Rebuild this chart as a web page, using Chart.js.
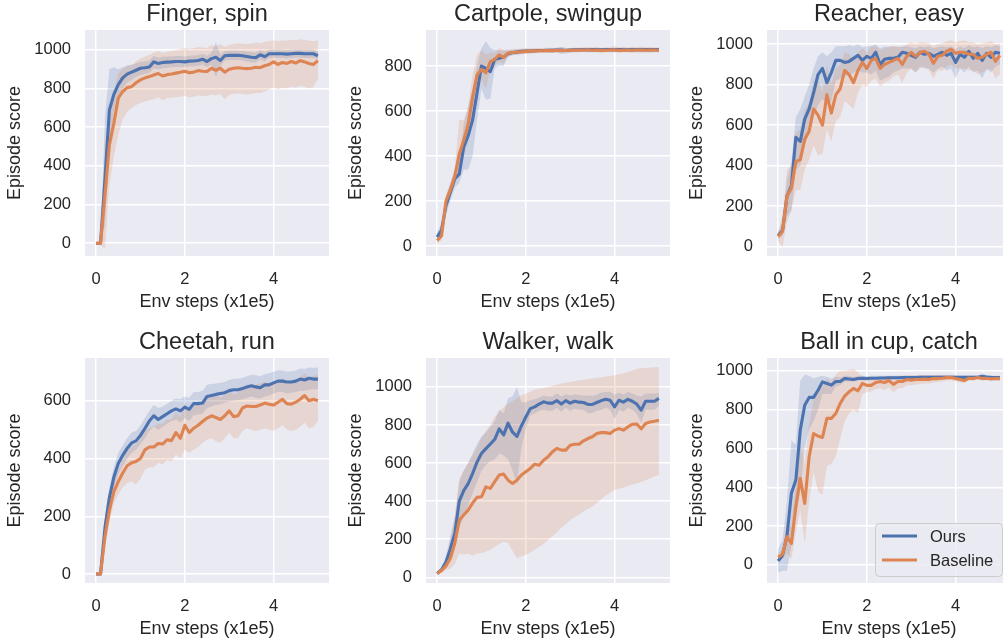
<!DOCTYPE html>
<html>
<head>
<meta charset="utf-8">
<script src="https://cdn.jsdelivr.net/npm/chart.js@4.4.0/dist/chart.umd.min.js"></script>
<style>
  html, body { margin: 0; padding: 0; background: #ffffff; }
  body { width: 1003px; height: 640px; position: relative; overflow: hidden; }
  canvas { position: absolute; }
</style>
</head>
<body>
<canvas id="c1" width="334" height="318" style="left:-1px;top:-2px"></canvas>
<canvas id="c2" width="334" height="318" style="left:340px;top:-2px"></canvas>
<canvas id="c3" width="334" height="318" style="left:681px;top:-2px"></canvas>
<canvas id="c4" width="334" height="317" style="left:-1px;top:326px"></canvas>
<canvas id="c5" width="334" height="317" style="left:340px;top:326px"></canvas>
<canvas id="c6" width="334" height="317" style="left:681px;top:326px"></canvas>
<script>
// ---------------- data ----------------
const steps = [0,0.1,0.2,0.3,0.4,0.5,0.6,0.7,0.8,0.9,1.0,1.1,1.2,1.3,1.4,1.5,1.6,1.7,1.8,1.9,2.0,2.1,2.2,2.3,2.4,2.5,2.6,2.7,2.8,2.9,3.0,3.1,3.2,3.3,3.4,3.5,3.6,3.7,3.8,3.9,4.0,4.1,4.2,4.3,4.4,4.5,4.6,4.7,4.8,4.9,5.0];
const xTicks = [0, 2, 4];
const seriesNames = ['Ours', 'Baseline'];
const panelTitles = ['Finger, spin', 'Cartpole, swingup', 'Reacher, easy', 'Cheetah, run', 'Walker, walk', 'Ball in cup, catch'];

// Finger, spin
const fingerOurs   = [0,0,330,690,770,820,855,875,885,895,905,908,912,938,930,935,937,938,940,940,938,942,943,945,952,940,955,962,945,970,972,972,972,970,966,962,960,975,965,980,980,980,980,978,980,982,982,980,980,980,970];
const fingerOursLo = [-5,-5,100,480,680,760,800,830,845,860,870,875,880,905,900,905,908,910,912,912,910,915,915,918,925,912,925,860,915,945,948,948,948,945,940,935,935,950,940,958,958,958,958,956,958,960,960,958,958,958,950];
const fingerOursHi = [5,5,650,900,910,900,910,920,925,930,938,940,944,970,960,965,966,966,968,968,966,970,971,972,980,968,985,1040,975,995,996,996,996,995,992,990,985,1000,990,1002,1002,1002,1002,1000,1002,1004,1004,1002,1002,1002,990];
const fingerBase   = [0,0,250,510,620,750,785,805,810,830,845,855,862,870,878,865,872,875,880,885,890,882,885,893,890,888,905,895,905,885,900,905,908,905,903,905,910,908,918,925,938,925,935,930,940,932,945,938,930,925,945];
const fingerBaseLo = [-5,-10,-30,300,450,560,640,680,700,715,725,735,740,745,755,740,750,752,755,758,762,755,758,765,762,760,770,765,772,745,768,772,775,772,770,772,778,776,785,795,805,795,805,800,810,805,815,810,800,810,850];
const fingerBaseHi = [5,10,500,700,780,880,900,915,920,940,955,965,975,985,995,985,990,995,1000,1005,1010,1005,1008,1015,1012,1010,1025,1018,1030,1015,1025,1030,1035,1032,1030,1032,1038,1035,1042,1045,1050,1045,1050,1048,1052,1050,1055,1052,1048,1045,1050];

// Cartpole, swingup
const cartOurs   = [40,70,180,240,300,320,440,490,560,680,800,790,775,830,835,840,855,860,862,865,866,867,868,869,869,870,870,871,871,869,871,872,872,873,872,873,873,872,873,873,873,873,873,872,873,873,873,873,873,873,873];
const cartOursLo = [15,40,140,200,260,280,340,340,400,560,700,650,655,790,800,800,840,848,850,855,855,857,858,859,860,860,858,860,855,855,860,862,862,863,862,863,863,862,863,863,863,862,863,862,863,863,863,863,863,863,863];
const cartOursHi = [65,100,220,280,340,380,540,620,700,800,880,910,880,870,870,870,870,872,874,875,876,876,876,877,877,878,880,880,885,880,880,880,880,881,880,881,881,880,881,881,881,882,881,880,881,881,881,881,881,881,881];
const cartBase   = [25,45,200,250,310,410,470,540,660,760,785,770,820,830,850,838,858,860,862,863,865,866,867,868,868,869,868,870,869,869,870,870,870,871,871,870,871,869,870,871,872,869,871,870,870,871,871,870,871,871,870];
const cartBaseLo = [10,25,170,220,270,330,400,460,560,700,740,700,780,800,820,810,845,848,850,852,855,856,857,858,858,858,858,860,855,860,860,860,860,862,860,860,860,858,860,860,860,858,860,860,858,860,858,860,858,860,860];
const cartBaseHi = [40,65,230,280,350,560,560,620,760,850,870,850,860,860,880,870,872,875,876,878,880,880,880,880,880,882,880,882,885,880,880,882,882,882,885,882,885,880,882,882,890,880,885,882,885,882,888,882,885,882,882];

// Reacher, easy
const reachOurs   = [55,80,250,300,540,520,630,680,760,850,880,810,860,920,920,910,915,930,945,920,940,930,960,900,925,930,930,935,960,955,945,935,960,950,955,940,950,960,945,955,910,950,935,965,930,955,920,955,935,960,955];
const reachOursLo = [35,55,150,180,380,400,500,560,640,700,730,700,720,820,830,840,845,860,870,860,860,850,870,820,830,840,860,870,880,880,880,860,890,880,880,860,880,890,870,880,830,880,860,890,860,870,830,880,860,890,900];
const reachOursHi = [75,110,330,420,640,680,740,800,880,940,960,940,960,990,990,990,995,990,1000,985,990,990,1000,980,990,985,990,985,990,990,985,980,990,985,990,980,985,990,985,990,975,990,980,995,985,990,980,990,985,995,990];
const reachBase   = [50,75,250,290,420,430,530,570,680,650,600,750,660,750,780,870,850,810,870,910,880,920,930,880,900,910,920,930,900,940,960,940,960,965,950,905,940,945,965,975,955,960,960,950,950,930,935,950,960,915,945];
const reachBaseLo = [25,0,120,180,280,280,380,430,500,450,460,580,520,620,640,720,700,680,760,800,790,820,830,790,810,820,840,850,810,860,880,860,880,890,870,830,870,870,890,900,880,880,880,870,870,850,860,870,880,830,850];
const reachBaseHi = [75,150,380,400,560,580,680,710,820,820,760,900,800,880,900,960,950,920,960,980,960,990,990,970,980,990,990,990,985,1000,1010,1000,1010,1010,1005,990,1000,1005,1015,1020,1010,1015,1020,1010,1010,1000,1005,1010,1015,1000,1005];

// Cheetah, run
const cheetOurs   = [0,0,160,265,335,383,411,435,454,461,480,504,530,548,535,545,555,565,572,565,578,570,590,590,592,615,618,622,625,628,635,638,638,642,648,652,648,645,655,655,662,668,668,665,665,668,675,672,678,675,675];
const cheetOursLo = [-5,-5,120,230,300,345,375,400,420,430,450,470,495,510,500,510,520,530,535,525,540,530,550,552,555,575,580,585,588,592,598,600,602,605,610,615,610,608,615,618,625,630,630,625,628,630,635,635,638,640,640];
const cheetOursHi = [5,5,200,300,370,420,445,470,490,495,515,540,565,585,575,580,590,600,608,605,615,610,630,630,635,655,658,660,662,665,672,676,676,680,685,690,688,685,692,695,700,705,705,700,702,705,712,710,715,714,715];
const cheetBase   = [0,0,130,220,285,320,350,375,385,390,400,430,440,440,452,450,465,462,490,470,515,490,505,515,528,540,548,542,535,548,565,545,548,575,582,580,580,585,592,588,585,595,605,590,588,595,605,618,600,605,600];
const cheetBaseLo = [-5,-5,90,180,245,275,300,315,320,310,330,360,370,370,385,380,395,390,415,400,430,420,430,440,455,465,470,460,455,470,490,470,470,495,505,500,495,500,505,500,495,505,515,500,495,500,510,525,505,510,530];
const cheetBaseHi = [5,5,170,260,320,360,395,425,440,450,465,495,505,510,520,520,535,535,560,545,595,560,580,590,600,610,620,618,612,620,640,622,628,650,655,652,655,660,665,662,660,668,680,665,665,670,680,695,680,685,690];

// Walker, walk
const walkOurs   = [20,40,80,150,230,400,455,492,545,605,650,676,700,725,780,748,810,762,740,795,842,886,895,910,922,915,915,928,910,928,915,925,920,918,908,908,918,928,935,930,895,930,920,935,925,910,878,925,925,925,940];
const walkOursLo = [15,30,50,90,150,260,320,380,440,500,560,590,610,620,650,640,620,560,490,680,780,850,860,875,880,875,875,890,870,890,875,885,880,880,860,865,875,880,890,880,830,880,870,890,880,860,810,880,880,880,900];
const walkOursHi = [25,50,110,220,320,500,560,600,650,700,740,760,790,820,880,860,940,950,1000,920,920,930,935,945,955,950,950,965,950,962,955,960,958,955,955,952,960,970,975,975,960,970,960,975,965,955,950,965,965,965,970];
const walkBase   = [20,35,60,100,180,300,327,353,390,420,423,475,467,502,537,542,510,493,510,537,554,572,594,589,615,633,659,677,668,668,694,699,699,717,729,738,755,760,760,755,773,781,773,790,804,805,780,808,816,820,825];
const walkBaseLo = [15,25,40,45,70,125,120,125,115,125,126,135,145,160,175,187,180,140,100,110,117,130,145,160,175,196,215,235,260,280,300,315,330,345,360,370,390,410,430,445,458,465,470,480,488,493,500,510,520,530,537];
const walkBaseHi = [25,45,80,200,320,520,560,600,640,680,730,770,800,843,870,895,910,925,940,955,965,975,985,990,995,1000,1005,1012,1018,1022,1026,1030,1035,1038,1040,1044,1048,1050,1055,1058,1061,1066,1072,1078,1085,1096,1100,1098,1102,1104,1105];

// Ball in cup, catch
const ballOurs   = [20,50,150,369,437,695,823,863,863,900,943,935,926,945,945,960,958,955,960,962,960,962,962,963,963,964,964,964,965,965,965,965,966,966,966,966,967,967,967,967,967,966,966,966,966,967,972,968,966,965,965];
const ballOursLo = [-40,-30,-30,100,250,380,600,700,740,800,880,880,880,920,925,945,945,945,950,952,950,952,952,954,954,955,955,955,956,956,956,956,957,957,957,957,958,958,958,958,958,957,957,957,957,958,962,960,958,956,956];
const ballOursHi = [80,130,330,640,620,950,980,975,960,970,975,970,960,970,965,975,972,970,972,974,972,974,974,974,974,975,975,975,975,975,975,975,976,976,976,976,977,977,977,977,977,976,976,976,976,977,982,978,976,975,975];
const ballBase   = [40,55,146,111,300,446,317,557,677,664,657,755,755,780,832,870,892,909,897,935,925,925,940,945,940,950,930,945,945,955,952,955,955,957,955,960,960,962,965,965,960,955,950,962,960,965,960,962,958,960,960];
const ballBaseLo = [20,30,60,30,170,280,110,330,480,380,360,510,520,560,650,740,780,800,780,880,890,895,905,910,900,915,890,910,910,925,925,930,932,935,935,940,942,945,950,952,945,940,938,950,948,955,950,952,948,950,950];
const ballBaseHi = [60,80,220,200,430,620,520,730,850,900,920,960,940,980,1000,1000,1005,1010,990,975,960,955,965,970,970,975,965,975,975,980,978,978,978,980,978,980,978,980,980,978,975,970,965,975,972,975,972,972,968,970,970];

const yTicks1000 = [0, 200, 400, 600, 800, 1000];
const yTicks800  = [0, 200, 400, 600, 800];
const yTicks600  = [0, 200, 400, 600];

// ---------------- drawing ----------------
const BLUE = '#4C72B0', ORANGE = '#DD8452';
const BLUE_BAND = 'rgba(76,114,176,0.2)', ORANGE_BAND = 'rgba(221,132,82,0.2)';
const TEXT = '#262626';
const FONT = '"Liberation Sans", Arial, "Helvetica", sans-serif';

const bgPlugin = {
  id: 'bg',
  beforeDraw(chart) {
    const a = chart.chartArea, ctx = chart.ctx;
    ctx.save();
    ctx.fillStyle = '#EAEAF2';
    ctx.fillRect(a.left, a.top, a.right - a.left, a.bottom - a.top);
    ctx.restore();
  }
};

const boxLegend = {
  id: 'boxLegend',
  afterDraw(chart, args, opts) {
    if (!opts.show) return;
    const a = chart.chartArea, ctx = chart.ctx;
    const w = 127, h = 53;
    const x0 = a.right - 9 - w, y0 = a.bottom - 7 - h;
    ctx.save();
    ctx.beginPath();
    if (ctx.roundRect) ctx.roundRect(x0 + 0.5, y0 + 0.5, w, h, 4); else ctx.rect(x0 + 0.5, y0 + 0.5, w, h);
    ctx.fillStyle = 'rgba(234,234,242,0.8)';
    ctx.fill();
    ctx.strokeStyle = '#CCCCCC';
    ctx.lineWidth = 1;
    ctx.stroke();
    const cols = [BLUE, ORANGE];
    ctx.font = '16.5px ' + FONT;
    ctx.textBaseline = 'middle';
    ctx.textAlign = 'left';
    seriesNames.forEach((name, i) => {
      const yy = y0 + 13 + i * 24;
      ctx.strokeStyle = cols[i];
      ctx.lineWidth = 3;
      ctx.beginPath();
      ctx.moveTo(x0 + 7, yy);
      ctx.lineTo(x0 + 42, yy);
      ctx.stroke();
      ctx.fillStyle = TEXT;
      ctx.fillText(name, x0 + 55, yy + 1);
    });
    ctx.restore();
  }
};

function pts(arr) { return arr.map((v, i) => ({ x: steps[i], y: v })); }

function makePanel(id, title, ours, oursLo, oursHi, base, baseLo, baseHi, yMin, yMax, yTicks, legend) {
  const lineDs = (label, data, color, order) => ({
    label, data: pts(data), borderColor: color, borderWidth: 3.1, pointRadius: 0,
    tension: 0, fill: false, order, borderJoinStyle: 'round'
  });
  const bandDs = (data, fillTo, color, order) => ({
    label: '', data: pts(data), borderWidth: 0, borderColor: 'rgba(0,0,0,0)', pointRadius: 0,
    tension: 0, fill: fillTo, backgroundColor: color, order
  });
  new Chart(document.getElementById(id), {
    type: 'line',
    data: {
      datasets: [
        lineDs(seriesNames[0], ours, BLUE, 1),
        lineDs(seriesNames[1], base, ORANGE, 0),
        bandDs(oursLo, false, BLUE_BAND, 3),
        bandDs(oursHi, '-1', BLUE_BAND, 3),
        bandDs(baseLo, false, ORANGE_BAND, 2),
        bandDs(baseHi, '-1', ORANGE_BAND, 2)
      ]
    },
    options: {
      responsive: false,
      animation: false,
      layout: { padding: { left: 0, right: 4, top: 0, bottom: 0 } },
      plugins: {
        legend: { display: false },
        tooltip: { enabled: false },
        title: {
          display: true, text: title, color: TEXT, fullSize: false,
          font: { family: FONT, size: 23.5, weight: 'normal' },
          padding: { top: 2, bottom: 1.8 }
        },
        boxLegend: { show: !!legend }
      },
      scales: {
        x: {
          type: 'linear', min: -0.25, max: 5.25,
          afterBuildTicks: s => { s.ticks = xTicks.map(v => ({ value: v })); },
          afterFit: s => { s.height = 60; },
          ticks: { color: TEXT, font: { family: FONT, size: 16.5 }, padding: 14, maxRotation: 0, callback: v => String(v) },
          grid: { color: '#ffffff', lineWidth: 1.5, drawTicks: false },
          border: { display: false },
          title: { display: true, text: 'Env steps (x1e5)', color: TEXT, font: { family: FONT, size: 18 }, padding: { top: 0, bottom: 3 } }
        },
        y: {
          type: 'linear', min: yMin, max: yMax,
          afterBuildTicks: s => { s.ticks = yTicks.map(v => ({ value: v })); },
          afterFit: s => { s.width = 86; },
          ticks: { color: TEXT, font: { family: FONT, size: 16.5 }, padding: 14, callback: v => String(v) },
          grid: { color: '#ffffff', lineWidth: 1.5, drawTicks: false },
          border: { display: false },
          title: { display: true, text: 'Episode score', color: TEXT, font: { family: FONT, size: 18 }, padding: { top: 5, bottom: 0 } }
        }
      }
    },
    plugins: [bgPlugin, boxLegend]
  });
}

makePanel('c1', panelTitles[0], fingerOurs, fingerOursLo, fingerOursHi, fingerBase, fingerBaseLo, fingerBaseHi, -66, 1103, yTicks1000, false);
makePanel('c2', panelTitles[1], cartOurs, cartOursLo, cartOursHi, cartBase, cartBaseLo, cartBaseHi, -44, 960, yTicks800, false);
makePanel('c3', panelTitles[2], reachOurs, reachOursLo, reachOursHi, reachBase, reachBaseLo, reachBaseHi, -46, 1070, yTicks1000, false);
makePanel('c4', panelTitles[3], cheetOurs, cheetOursLo, cheetOursHi, cheetBase, cheetBaseLo, cheetBaseHi, -31, 748, yTicks600, false);
makePanel('c5', panelTitles[4], walkOurs, walkOursLo, walkOursHi, walkBase, walkBaseLo, walkBaseHi, -30, 1152, yTicks1000, false);
makePanel('c6', panelTitles[5], ballOurs, ballOursLo, ballOursHi, ballBase, ballBaseLo, ballBaseHi, -93, 1066, yTicks1000, true);
</script>
</body>
</html>
